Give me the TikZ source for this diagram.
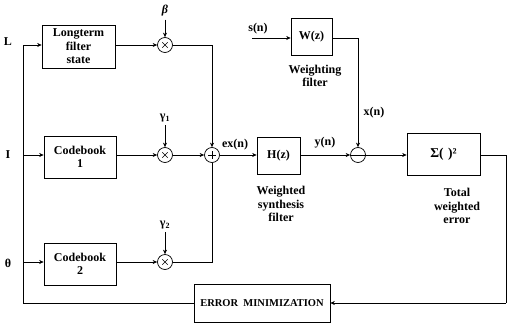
\documentclass[tikz,border=0pt]{standalone}
\usepackage{fontspec}
\setmainfont{Liberation Serif}
\usetikzlibrary{arrows.meta}
\begin{document}
\begin{tikzpicture}[x=1pt,y=-1pt,
  every node/.style={font=\bfseries\fontsize{12}{13.5}\selectfont},
  blk/.style={draw,line width=0.7pt,minimum width=#1,inner sep=1pt,align=center},
  circ/.style={draw,circle,line width=0.7pt,minimum size=15pt,inner sep=0pt},
  lbl/.style={align=center,inner sep=0pt},
  wire/.style={line width=0.6pt},
  arr/.style={wire,-{Stealth[length=4.5pt,width=4pt]}}]
\useasboundingbox (0,0) rectangle (508,324);
% blocks
\node[blk=73pt,minimum height=43pt] (lt) at (78.5,46.5) {Longterm\\filter\\state};
\node[blk=72pt,minimum height=42pt] (c1) at (80,157) {Codebook\\1};
\node[blk=72pt,minimum height=42pt] (c2) at (80,264) {Codebook\\2};
\node[blk=43pt,minimum height=37pt] (h) at (278.5,155.5) {H(z)};
\node[blk=41pt,minimum height=37pt] (w) at (311.5,36.5) {W(z)};
\node[blk=73pt,minimum height=42pt] (sq) at (443.5,154) {\fontsize{13.5}{15}\selectfont Σ(\,\,)²};
\node[blk=136pt,minimum height=38pt] (em) at (262,303) {\fontsize{10.5}{12}\selectfont ERROR\ \ MINIMIZATION};
% operators
\node[circ] (m0) at (165,45) {};
\node[circ] (m1) at (165,155) {};
\node[circ] (m2) at (165,262) {};
\node[circ] (pl) at (212,155) {};
\node[circ] (mi) at (358,155) {};
\foreach \n in {m0,m1,m2}{
  \draw[line width=0.6pt] ([shift={(-2.7,-2.7)}]\n.center) -- ([shift={(2.7,2.7)}]\n.center)
    ([shift={(-2.7,2.7)}]\n.center) -- ([shift={(2.7,-2.7)}]\n.center);}
\draw[line width=0.6pt] ([xshift=-3.8pt]pl.center) -- ([xshift=3.8pt]pl.center)
  ([yshift=-3.8pt]pl.center) -- ([yshift=3.8pt]pl.center);
\draw[line width=0.6pt] (mi.west) -- (mi.east);
% labels
\node[lbl] (lL) at (8,42) {L};
\node[lbl] (lI) at (8,155) {I};
\node[lbl] (lT) at (8,263) {θ};
\node[lbl] (beta) at (165,11) {\itshape β};
\node[lbl] (g1) at (165,118) {γ\textsubscript{1}};
\node[lbl] (g2) at (165,225) {γ\textsubscript{2}};
\node[lbl] (ex) at (235,145) {ex(n)};
\node[lbl] (yn) at (325,143) {y(n)};
\node[lbl] (xn) at (374,113) {x(n)};
\node[lbl] (sn) at (258,29) {s(n)};
\node[lbl] (wf) at (315,76) {Weighting\\filter};
\node[lbl] (hf) at (281,204) {Weighted\\synthesis\\filter};
\node[lbl] (tw) at (457,206) {Total\\weighted\\error};
% junction coordinates
\coordinate (j0) at (23,45);
\coordinate (j1) at (23,155);
\coordinate (j2) at (23,262);
\coordinate (j3) at (23,303);
\coordinate (sin) at (252,38);
\coordinate (rt) at (506,155);
\coordinate (rb) at (506,303);
% connectors
\draw[wire] (j0) -- (j3) -- (em.west);
\draw[arr] (j0) -- (lt.west |- j0);
\draw[arr] (j1) -- (c1.west |- j1);
\draw[arr] (j2) -- (c2.west |- j2);
\draw[arr] (lt.east |- m0) -- (m0);
\draw[arr] (c1.east |- m1) -- (m1);
\draw[arr] (c2.east |- m2) -- (m2);
\draw[arr] (beta.south) ++(0,3) -- (m0);
\draw[arr] (g1.south) ++(0,3) -- (m1);
\draw[arr] (g2.south) ++(0,3) -- (m2);
\draw[arr] (m0) -| (pl);
\draw[arr] (m1) -- (pl);
\draw[wire] (m2) -| (pl);
\draw[arr] (pl) -- (h.west |- pl);
\draw[arr] (h.east |- mi) -- (mi);
\draw[arr] (sin) -- (w.west |- sin);
\draw[arr] (w.east |- sin) -| (mi);
\draw[arr] (mi) -- (sq.west |- mi);
\draw[wire] (sq.east |- rt) -- (rt) -- (rb);
\draw[arr] (rb) -- (em.east);
\end{tikzpicture}
\end{document}
